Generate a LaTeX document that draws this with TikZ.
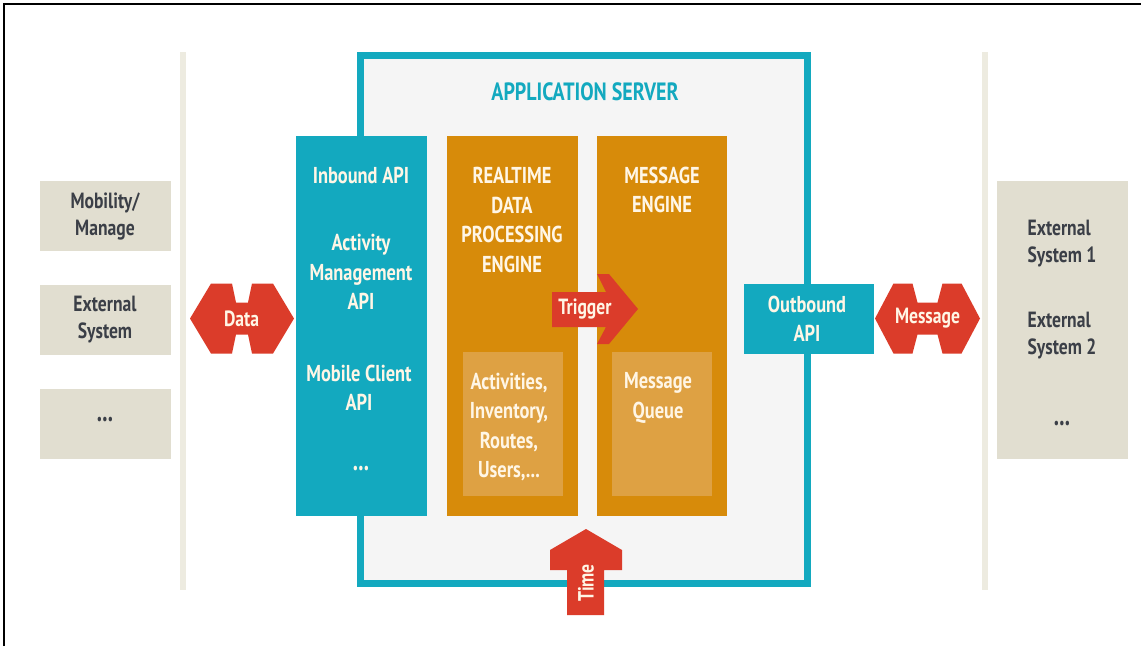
\documentclass[tikz,border=0pt]{standalone}
\usepackage{fontspec}
\usetikzlibrary{calc}
\newfontfamily\din[FakeStretch=0.70]{PT Sans}
\newfontfamily\dinw[FakeStretch=0.80]{PT Sans}
\definecolor{tealc}{HTML}{13A9BF}
\definecolor{orng}{HTML}{D78B0A}
\definecolor{lorng}{HTML}{DEA143}
\definecolor{redar}{HTML}{DB3C2A}
\definecolor{beige}{HTML}{E1DED0}
\definecolor{bline}{HTML}{EDEBE0}
\definecolor{srvbg}{HTML}{F5F5F5}
\definecolor{darktxt}{HTML}{3B3F47}
\definecolor{cream}{HTML}{FFF6E6}
\tikzset{
  x=1pt, y=-1pt,
  wtxt/.style={text=cream, font=\dinw\bfseries\fontsize{23}{29.5}\selectfont, align=center, inner sep=0},
  captxt/.style={text=cream, font=\dinw\bfseries\fontsize{23}{29.5}\selectfont, align=center, inner sep=0},
  dtxt/.style={text=darktxt, font=\dinw\bfseries\fontsize{22}{27}\selectfont, align=center, inner sep=0},
  arlabel/.style={text=cream, font=\dinw\bfseries\fontsize{22}{24}\selectfont, inner sep=0},
  dotstxt/.style={font=\din\bfseries\fontsize{30}{30}\selectfont, inner sep=0},
  arrowfill/.style={fill=redar, draw=none},
}
\begin{document}
\begin{tikzpicture}
\useasboundingbox (0,0) rectangle (1141,646);
\fill[white] (0,0) rectangle (1141,646);
\draw[line width=2, black] (4,646) -- (4,4) -- (1141,4);

% separator lines
\fill[bline] (180,52) rectangle (186,590);
\fill[bline] (982,52) rectangle (988,590);

% left boxes
\fill[beige] (40,181) rectangle (171,251);
\node[dtxt] (mob) at (105,216) {Mobility/\\Manage};
\fill[beige] (40,285) rectangle (171,355);
\node[dtxt] (ext) at (105,320) {External\\System};
\fill[beige] (40,389) rectangle (171,459);
\node[dotstxt, text=darktxt] (dots1) at (105,420) {...};

% right box
\fill[beige] (997,181) rectangle (1128,459);
\node[dtxt, align=left] (ext1) at (1062,244) {External\\System 1};
\node[dtxt, align=left] (ext2) at (1062,336) {External\\System 2};
\node[dotstxt, text=darktxt] (dots3) at (1062,424) {...};

% application server
\filldraw[fill=srvbg, draw=tealc, line width=7] (360.5,55.5) rectangle (807.5,583.5);
\node[text=tealc, font=\dinw\bfseries\fontsize{25}{28}\selectfont, inner sep=0] (title) at (585,92) {APPLICATION SERVER};

% columns
\fill[tealc] (296,136) rectangle (427,516);
\fill[orng] (447,136) rectangle (578,516);
\fill[orng] (597,136) rectangle (727,516);
\fill[lorng] (463,352) rectangle (563,496);
\fill[lorng] (612,352) rectangle (712,496);
\fill[tealc] (744,284) rectangle (874,354);

\node[wtxt] (inb) at (361,175) {Inbound API};
\node[wtxt] (act) at (361,272) {Activity\\Management\\API};
\node[wtxt] (mobc) at (359,388) {Mobile Client\\API};
\node[dotstxt, text=cream] (dots2) at (361,469) {...};

\node[captxt] (rt) at (512,220) {REALTIME\\DATA\\PROCESSING\\ENGINE};
\node[captxt] (me) at (662,190) {MESSAGE\\ENGINE};
\node[wtxt] (acts) at (509,427) {Activities,\\Inventory,\\Routes,\\Users,...};
\node[wtxt] (mq) at (658,398) {Message\\Queue};
\node[wtxt] (outb) at (807,319) {Outbound\\API};

% Data arrow
\coordinate (dc) at (241.5,318.5);
\fill[arrowfill] ($(dc)+(-51.5,0)$) -- ++(21,-35) -- ++(21,0) -- ++(4,19) -- ++(12,0) -- ++(4,-19) -- ++(21,0) -- ++(21,35)
  -- ++(-21,35) -- ++(-21,0) -- ++(-4,-19) -- ++(-12,0) -- ++(-4,19) -- ++(-21,0) -- cycle;
\node[arlabel] (data) at (dc) {Data};

% Message arrow
\coordinate (mc) at (927.5,318.5);
\fill[arrowfill] ($(mc)+(-52.5,0)$) -- ++(18.5,-35) -- ++(19,0) -- ++(5,19) -- ++(20,0) -- ++(5,-19) -- ++(19,0) -- ++(18.5,35)
  -- ++(-18.5,35) -- ++(-19,0) -- ++(-5,-19) -- ++(-20,0) -- ++(-5,19) -- ++(-19,0) -- cycle;
\node[arlabel] (msg) at (mc) {Message};

% Trigger arrow
\fill[arrowfill] (552,292) -- (606,292) -- (597,274) -- (609,274) -- (638,309) -- (609,344) -- (597,344) -- (606,327) -- (552,327) -- cycle;
\node[arlabel] (trig) at (585,309) {Trigger};

% Time arrow
\fill[arrowfill] (567,615) -- (567,570) -- (550,570) -- (550,550) -- (586,529) -- (622,550) -- (622,570) -- (604,570) -- (604,615) -- cycle;
\node[arlabel, rotate=90] (time) at (586,583) {Time};
\end{tikzpicture}
\end{document}
